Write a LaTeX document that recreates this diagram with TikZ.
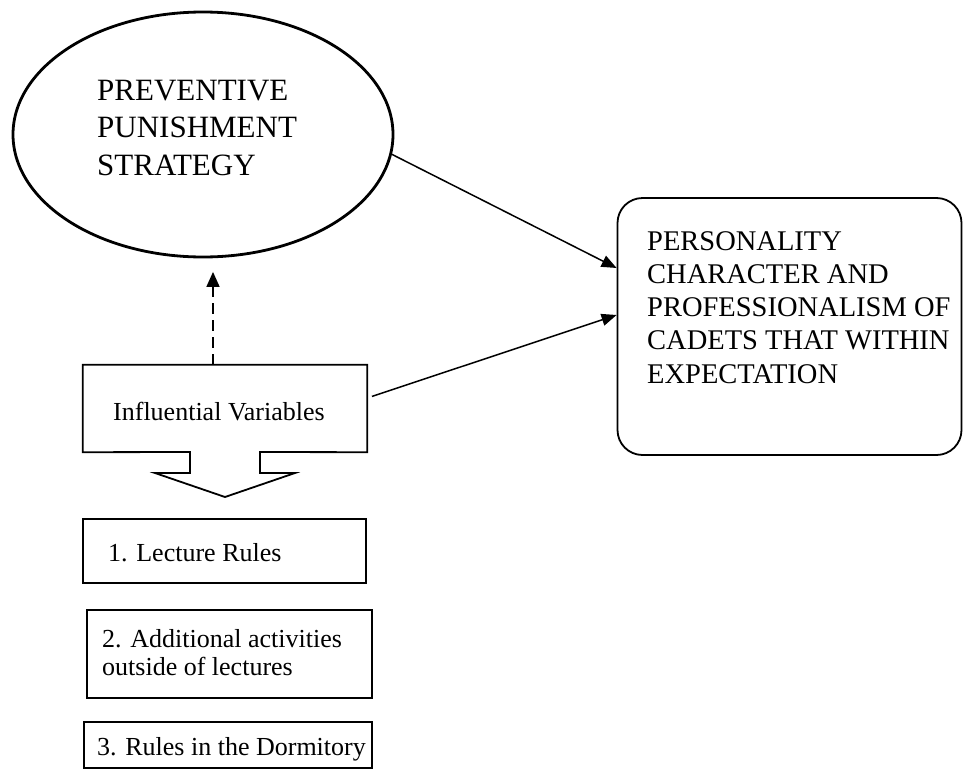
\documentclass[tikz,border=0pt]{standalone}
\usepackage{fontspec}
\setmainfont{Liberation Serif}
\usetikzlibrary{arrows.meta,shapes.geometric,calc}

\begin{document}
\begin{tikzpicture}[x=1pt,y=-1pt,
  txt/.style={inner sep=0pt, align=left},
  bigfont/.style={font=\fontsize{31}{37.5}\selectfont},
  midfont/.style={font=\fontsize{28.5}{33.25}\selectfont},
  smallfont/.style={font=\fontsize{26}{28}\selectfont},
  box/.style={draw, line width=1.8pt, rectangle, inner sep=0pt},
  conn/.style={line width=1.5pt, -{Triangle[length=15pt,width=12pt]}},
]
\useasboundingbox (0,0) rectangle (963,771);

% Ellipse
\node[draw, ellipse, line width=2.8pt, minimum width=380pt, minimum height=245pt, inner sep=0pt] (ell) at (203,134.5) {};
\node[txt, bigfont, anchor=north west] (elltext) at (97,79.5) {PREVENTIVE\\PUNISHMENT\\STRATEGY};

% Right rounded box
\node[draw, line width=1.8pt, rounded corners=25pt, minimum width=344pt, minimum height=257pt, inner sep=0pt] (pers) at (789.5,326.5) {};
\node[txt, midfont, anchor=north west] (perstext) at (647,231) {PERSONALITY\\CHARACTER AND\\PROFESSIONALISM OF\\CADETS THAT WITHIN\\EXPECTATION};

% Influential variables callout
\node[inner sep=0pt, minimum width=284pt, minimum height=87pt] (iv) at (225,408.5) {};
\draw[line width=1.8pt, line join=miter] (iv.north west) -- (iv.north east) -- (iv.south east) -- (260,452) -- (260,473) -- (295,473) -- (225,497) -- (155,473) -- (190,473) -- (190,452) -- (iv.south west) -- cycle;
\node[txt, smallfont, anchor=base west] (ivtext) at (113,420) {Influential Variables};

% Connectors
\coordinate (dx) at (213,0);
\draw[line width=1.6pt, dash pattern=on 11pt off 6pt, -{Triangle[length=15pt,width=13pt,sep=6pt]}] (iv.north -| dx) -- ($(ell.south -| dx)+(0,7.5)$);
\coordinate (ya) at (0,268);
\draw[conn] (ell.-6) -- (pers.west |- ya);
\coordinate (yb) at (0,398);
\coordinate (yc) at (0,315);
\draw[conn, shorten <=5pt] (iv.east |- yb) -- (pers.west |- yc);

% Lower boxes
\node[box, minimum width=283pt, minimum height=64pt] (r1) at (224.5,551) {};
\node[txt, smallfont, anchor=base west] (t1) at (108,561) {1. Lecture Rules};
\node[box, minimum width=285pt, minimum height=88pt] (r2) at (229.5,654) {};
\node[txt, smallfont, anchor=north west] (t2) at (102,629) {2. Additional activities\\outside of lectures};
\node[box, minimum width=288pt, minimum height=46pt] (r3) at (228,745) {};
\node[txt, smallfont, anchor=base west] (t3) at (97,755) {3. Rules in the Dormitory};
\end{tikzpicture}
\end{document}
